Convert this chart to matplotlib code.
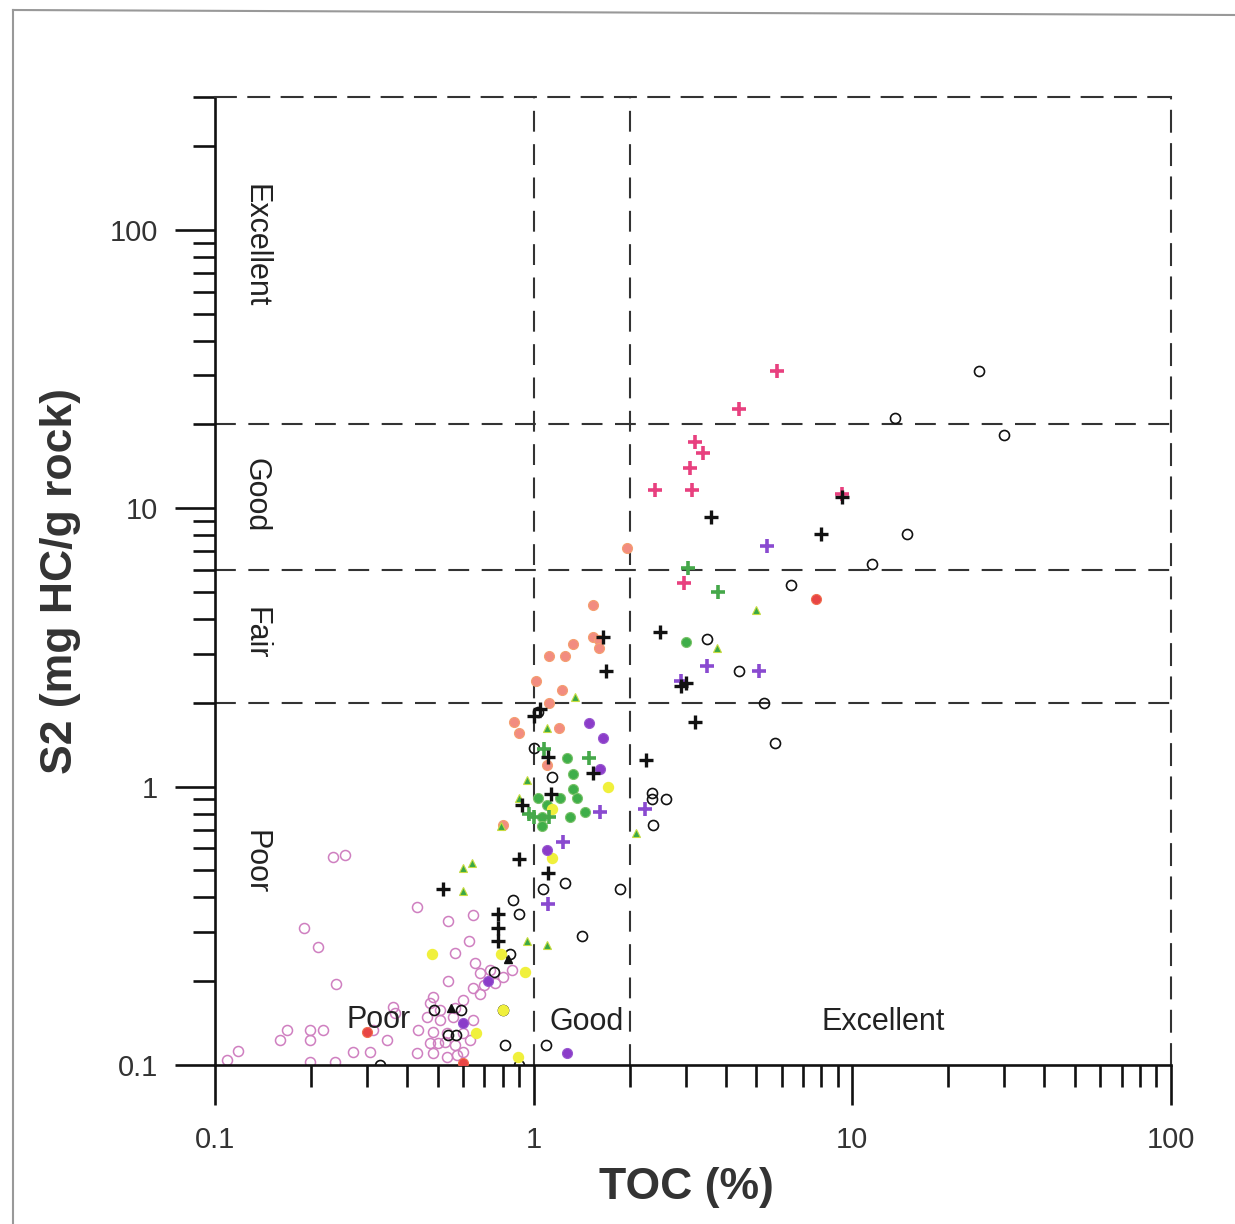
import matplotlib
matplotlib.use("Agg")
import matplotlib.pyplot as plt
from matplotlib import ticker
from matplotlib.lines import Line2D

plt.rcParams['font.family'] = ['Liberation Sans', 'DejaVu Sans']

# ---- data (TOC %, S2 mg HC/g rock) ----
pink_open_toc = [0.235, 0.255, 0.19, 0.21, 0.24, 0.43, 0.54, 0.645, 0.625, 0.565, 0.54, 0.655,
                 0.68, 0.73, 0.755, 0.70, 0.645, 0.60, 0.483, 0.473, 0.508, 0.463, 0.508, 0.558,
                 0.434, 0.483, 0.535, 0.473, 0.527, 0.566, 0.43, 0.483, 0.535, 0.574, 0.60, 0.631,
                 0.362, 0.367, 0.313, 0.347, 0.271, 0.306, 0.199, 0.218, 0.199, 0.168, 0.16, 0.118,
                 0.109, 0.199, 0.238, 0.80, 0.855, 0.645, 0.60, 0.565, 0.68, 0.50]
pink_open_s2 = [0.56, 0.57, 0.31, 0.265, 0.195, 0.37, 0.33, 0.345, 0.28, 0.253, 0.2, 0.233,
                0.214, 0.22, 0.197, 0.194, 0.189, 0.171, 0.176, 0.167, 0.158, 0.149, 0.145, 0.149,
                0.134, 0.131, 0.13, 0.12, 0.121, 0.118, 0.11, 0.11, 0.107, 0.109, 0.111, 0.123,
                0.162, 0.154, 0.134, 0.123, 0.111, 0.111, 0.134, 0.134, 0.123, 0.134, 0.123, 0.112,
                0.104, 0.1025, 0.1025, 0.207, 0.22, 0.145, 0.13, 0.16, 0.18, 0.12]

black_open_toc = [25, 13.6, 30, 14.8, 11.5, 6.4, 3.5, 4.4, 5.3, 5.7, 2.35, 2.35, 2.6, 2.37,
                  1.87, 1.42, 1.25, 1.07, 1.14, 1.0, 1.09, 0.81, 0.8, 0.86, 0.9, 0.84, 0.75,
                  0.485, 0.59, 0.54, 0.57, 0.33, 0.9, 1.03]
black_open_s2 = [31, 21, 18.3, 8.1, 6.3, 5.3, 3.4, 2.6, 2.0, 1.43, 0.95, 0.9, 0.9, 0.73,
                 0.43, 0.29, 0.45, 0.43, 1.08, 1.38, 0.118, 0.118, 0.158, 0.39, 0.35, 0.25, 0.215,
                 0.158, 0.158, 0.128, 0.128, 0.1, 0.1, 1.86]

black_plus_toc = [9.3, 8.0, 3.6, 2.5, 2.9, 3.0, 3.2, 2.25, 1.65, 1.69, 1.05, 1.11, 1.13, 1.53,
                  0.92, 0.9, 1.11, 0.52, 0.77, 0.77, 0.77, 1.0]
black_plus_s2 = [11, 8.1, 9.3, 3.6, 2.3, 2.35, 1.7, 1.25, 3.45, 2.6, 1.9, 1.28, 0.94, 1.12,
                 0.86, 0.55, 0.49, 0.43, 0.35, 0.31, 0.28, 1.8]

black_tri_toc = [0.83, 0.55]
black_tri_s2 = [0.24, 0.16]

hotpink_plus_toc = [5.8, 4.4, 3.2, 3.4, 3.1, 3.15, 2.4, 2.97, 9.3]
hotpink_plus_s2 = [31, 22.7, 17.3, 15.8, 14.0, 11.6, 11.6, 5.4, 11.2]

purple_plus_toc = [5.4, 3.5, 5.1, 2.23, 1.62, 1.24, 1.11, 2.9]
purple_plus_s2 = [7.3, 2.7, 2.6, 0.83, 0.81, 0.63, 0.38, 2.4]

green_dot_toc = [3.0, 1.27, 1.33, 1.33, 1.37, 1.21, 1.03, 1.30, 1.45, 1.06, 1.06, 1.1]
green_dot_s2 = [3.3, 1.27, 1.11, 0.98, 0.91, 0.91, 0.91, 0.78, 0.81, 0.78, 0.72, 0.86]

green_plus_toc = [3.05, 3.8, 1.49, 1.08, 1.0, 1.12, 0.97]
green_plus_s2 = [6.1, 5.0, 1.27, 1.36, 0.78, 0.78, 0.8]

green_tri_toc = [5.0, 3.75, 1.35, 1.10, 0.95, 0.9, 2.1, 0.79, 0.6, 0.64, 0.6, 0.95, 1.1]
green_tri_s2 = [4.3, 3.15, 2.1, 1.63, 1.06, 0.91, 0.68, 0.72, 0.51, 0.53, 0.42, 0.28, 0.27]

salmon_toc = [1.96, 1.53, 1.53, 1.6, 1.6, 1.33, 1.25, 1.12, 1.02, 1.23, 0.87, 0.9, 1.12,
              1.2, 1.1, 0.8]
salmon_s2 = [7.2, 4.5, 3.45, 3.35, 3.15, 3.25, 2.95, 2.95, 2.4, 2.23, 1.71, 1.56, 2.0,
             1.63, 1.2, 0.73]

yellow_toc = [1.71, 1.14, 0.48, 0.79, 0.94, 0.8, 0.66, 0.89, 1.14]
yellow_s2 = [1.0, 0.555, 0.25, 0.25, 0.215, 0.158, 0.13, 0.107, 0.83]

purple_dot_toc = [1.49, 1.65, 1.62, 1.10, 1.27, 0.6, 0.72]
purple_dot_s2 = [1.69, 1.5, 1.16, 0.59, 0.11, 0.142, 0.2]

red_toc = [7.7, 0.6, 0.3]
red_s2 = [4.7, 0.102, 0.131]

# class limits
toc_limits = [1, 2]
s2_limits = [2, 6, 20]

fig = plt.figure(figsize=(12.35, 12.24), dpi=100)
ax = fig.add_axes([0.1741, 0.1299, 0.7741, 0.7909])
ax.set_xscale('log')
ax.set_yscale('log')
ax.set_xlim(0.1, 100)
ax.set_ylim(0.1, 300)

dash = (0, (10, 6))
for v in toc_limits:
    ax.axvline(v, color='#333333', lw=1.5, ls=dash, zorder=1)
for v in s2_limits:
    ax.axhline(v, color='#333333', lw=1.5, ls=dash, zorder=1)

# markers
ax.plot(pink_open_toc, pink_open_s2, 'o', ms=7.2, mfc='none', mec='#cf7fc0', mew=1.1, zorder=2)
ax.plot(black_open_toc, black_open_s2, 'o', ms=7.2, mfc='none', mec='#111111', mew=1.2, zorder=3)
ax.plot(salmon_toc, salmon_s2, 'o', ms=7.2, mfc='#f28c80', mec='#f5a070', mew=0.8, zorder=3)
ax.plot(green_dot_toc, green_dot_s2, 'o', ms=7.2, mfc='#3fae49', mec='#7cc36a', mew=0.8, zorder=3)
ax.plot(yellow_toc, yellow_s2, 'o', ms=7.2, mfc='#f0f03c', mec='#f0f03c', zorder=3)
ax.plot(purple_dot_toc, purple_dot_s2, 'o', ms=7.2, mfc='#8b3cc9', mec='#9a5ad0', mew=0.8, zorder=3)
ax.plot(red_toc, red_s2, 'o', ms=7.2, mfc='#e84545', mec='#f07050', mew=0.8, zorder=3)
ax.plot(green_tri_toc, green_tri_s2, '^', ms=6, mfc='#3aa845', mec='#c8dc40', mew=0.8, zorder=4)
ax.plot(black_tri_toc, black_tri_s2, '^', ms=6, color='#111111', zorder=4)
ax.plot(green_plus_toc, green_plus_s2, '+', ms=10, mew=2.6, color='#45a84a', zorder=4)
ax.plot(purple_plus_toc, purple_plus_s2, '+', ms=10, mew=2.6, color='#8a4ad0', zorder=4)
ax.plot(hotpink_plus_toc, hotpink_plus_s2, '+', ms=10, mew=2.6, color='#e8407f', zorder=4)
ax.plot(black_plus_toc, black_plus_s2, '+', ms=10, mew=2.4, color='#111111', zorder=5)

# spines
for side in ['left', 'bottom']:
    ax.spines[side].set_linewidth(1.9)
    ax.spines[side].set_color('#111111')
for side in ['top', 'right']:
    ax.spines[side].set_linewidth(1.5)
    ax.spines[side].set_color('#333333')
    ax.spines[side].set_linestyle(dash)

# ticks
ax.tick_params(axis='both', which='major', direction='out', length=29, width=1.9,
               color='#111111', labelsize=21, labelcolor='#333333')
ax.tick_params(axis='both', which='minor', direction='out', length=16, width=1.9,
               color='#111111')
ax.tick_params(axis='y', which='major', pad=12)
ax.tick_params(axis='x', which='major', pad=15)
ax.xaxis.set_major_locator(ticker.LogLocator(base=10, numticks=10))
ax.yaxis.set_major_locator(ticker.LogLocator(base=10, numticks=10))
ax.xaxis.set_minor_locator(ticker.LogLocator(base=10, subs=range(2, 10), numticks=20))
ax.yaxis.set_minor_locator(ticker.LogLocator(base=10, subs=range(2, 10), numticks=20))
fmt = ticker.FuncFormatter(lambda v, _: f'{v:g}')
ax.xaxis.set_major_formatter(fmt)
ax.yaxis.set_major_formatter(fmt)
ax.xaxis.set_minor_formatter(ticker.NullFormatter())
ax.yaxis.set_minor_formatter(ticker.NullFormatter())

ax.set_xlabel('TOC (%)', fontsize=32, fontweight='bold', color='#333333', va='center')
ax.set_ylabel('S2 (mg HC/g rock)', fontsize=32, fontweight='bold', color='#333333', va='center')
ax.xaxis.set_label_coords(0.493, -0.127)
ax.yaxis.set_label_coords(-0.162, 0.5)

# class labels
txt = dict(fontsize=22, color='#222222', ha='center', va='center', transform=ax.transAxes)
ax.text(0.042, 0.846, 'Excellent', rotation=-90, **txt)
ax.text(0.042, 0.589, 'Good', rotation=-90, **txt)
ax.text(0.042, 0.446, 'Fair', rotation=-90, **txt)
ax.text(0.042, 0.210, 'Poor', rotation=-90, **txt)
ax.text(0.1715, 0.046, 'Poor', **txt)
ax.text(0.389, 0.044, 'Good', **txt)
ax.text(0.699, 0.044, 'Excellent', **txt)

# scanned page frame
fig.add_artist(Line2D([13 / 1235, 13 / 1235], [0, 1 - 10 / 1224], color='#999999', lw=1.5))
fig.add_artist(Line2D([13 / 1235, 1], [1 - 10 / 1224, 1 - 15 / 1224], color='#999999', lw=1.5))

fig.savefig('out.png', dpi=100)
